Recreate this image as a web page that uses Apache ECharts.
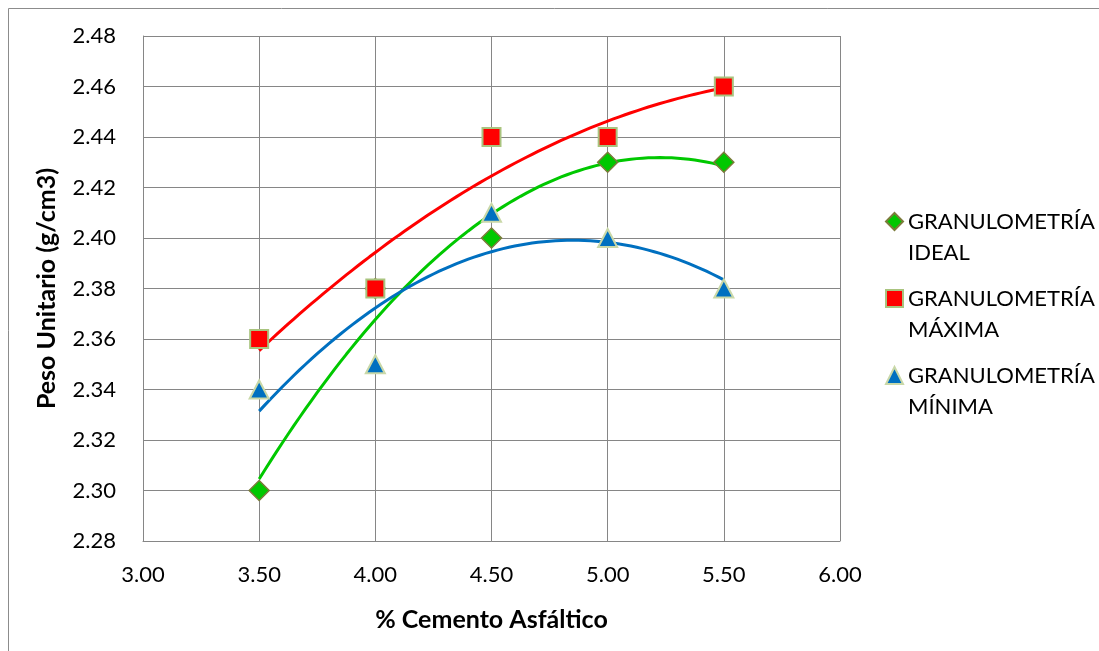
<!DOCTYPE html>
<html><head><meta charset="utf-8">
<script src="https://cdn.jsdelivr.net/npm/echarts@6/dist/echarts.min.js"></script>
<style>html,body{margin:0;padding:0;background:#fff}#c{width:1099px;height:651px}</style>
</head><body><div id="c"></div>
<script>
const xValues = [3.5, 4.0, 4.5, 5.0, 5.5];
const ideal = [2.30, 2.38, 2.40, 2.43, 2.43];
const maxima = [2.36, 2.38, 2.44, 2.44, 2.46];
const minima = [2.34, 2.35, 2.41, 2.40, 2.38];
const seriesNames = ['GRANULOMETRÍA\nIDEAL', 'GRANULOMETRÍA\nMÁXIMA', 'GRANULOMETRÍA\nMÍNIMA'];

function polyfit2(xs, ys) {
  // least squares quadratic fit (Excel polynomial trendline, order 2)
  let n = xs.length, s = [0,0,0,0,0], t = [0,0,0];
  for (let i = 0; i < n; i++) {
    let p = 1;
    for (let k = 0; k < 5; k++) { s[k] += p; if (k < 3) t[k] += p * ys[i]; p *= xs[i]; }
  }
  const A = [[s[0],s[1],s[2],t[0]],[s[1],s[2],s[3],t[1]],[s[2],s[3],s[4],t[2]]];
  for (let i = 0; i < 3; i++) {
    for (let j = i + 1; j < 3; j++) {
      const f = A[j][i] / A[i][i];
      for (let k = i; k < 4; k++) A[j][k] -= f * A[i][k];
    }
  }
  const c = [0,0,0];
  for (let i = 2; i >= 0; i--) {
    let v = A[i][3];
    for (let k = i + 1; k < 3; k++) v -= A[i][k] * c[k];
    c[i] = v / A[i][i];
  }
  return c;
}
function trend(ys) {
  const c = polyfit2(xValues, ys);
  const out = [];
  const x0 = xValues[0], x1 = xValues[xValues.length - 1];
  for (let i = 0; i <= 80; i++) {
    const x = x0 + (x1 - x0) * i / 80;
    out.push([x, c[0] + c[1] * x + c[2] * x * x]);
  }
  return out;
}
const pts = ys => xValues.map((x, i) => [x, ys[i]]);

const colors = {ideal: '#00C800', max: '#FF0000', min: '#0070C0'};
const FONT = 'Lato, "Open Sans", sans-serif';

const chart = echarts.init(document.getElementById('c'), null, {renderer: 'canvas'});
chart.setOption({
  animation: false,
  textStyle: {fontFamily: FONT},
  graphic: [{type: 'rect', shape: {x: 8.5, y: 8.5, width: 2000, height: 2000}, style: {fill: 'none', stroke: '#8c8c8c', lineWidth: 1}, z: -1}],
  grid: {left: 143, right: 259, top: 36, bottom: 110},
  legend: {
    data: seriesNames,
    orient: 'vertical',
    left: 885, top: 175, padding: 0,
    itemWidth: 17, itemHeight: 17, itemGap: -16,
    formatter: name => ' \n' + name,
    textStyle: {fontSize: 22, color: '#000', lineHeight: 31, fontFamily: FONT}
  },
  xAxis: {
    type: 'value', min: 3.0, max: 6.0, interval: 0.5,
    name: '% Cemento Asfáltico', nameLocation: 'middle', nameGap: 66,
    nameTextStyle: {fontSize: 25, fontWeight: 'bold', color: '#000', fontFamily: FONT},
    axisLine: {show: true, lineStyle: {color: '#868686', width: 1}},
    axisTick: {show: false},
    axisLabel: {fontSize: 22, color: '#000', margin: 23, formatter: v => v.toFixed(2)},
    splitLine: {show: true, lineStyle: {color: '#868686', width: 1}}
  },
  yAxis: {
    type: 'value', min: 2.28, max: 2.48, interval: 0.02,
    name: 'Peso Unitario (g/cm3)', nameLocation: 'middle', nameGap: 84,
    nameTextStyle: {fontSize: 25, fontWeight: 'bold', color: '#000', fontFamily: FONT},
    axisLine: {show: true, lineStyle: {color: '#868686', width: 1}},
    axisTick: {show: false},
    axisLabel: {fontSize: 22, color: '#000', margin: 27, formatter: v => v.toFixed(2)},
    splitLine: {show: true, lineStyle: {color: '#868686', width: 1}}
  },
  series: [
    {type: 'line', data: trend(ideal), showSymbol: false, silent: true, z: 2, lineStyle: {color: colors.ideal, width: 3}},
    {type: 'line', data: trend(maxima), showSymbol: false, silent: true, z: 2, lineStyle: {color: colors.max, width: 3}},
    {type: 'line', data: trend(minima), showSymbol: false, silent: true, z: 2, lineStyle: {color: colors.min, width: 3}},
    {name: seriesNames[0], type: 'scatter', data: pts(ideal), symbol: 'diamond', symbolSize: [20, 20], z: 5,
     itemStyle: {color: colors.ideal, borderColor: '#7b7b3a', borderWidth: 1.5, opacity: 1}},
    {name: seriesNames[1], type: 'scatter', data: pts(maxima), symbol: 'rect', symbolSize: 18, z: 6,
     itemStyle: {color: colors.max, borderColor: '#a9c47f', borderWidth: 2, opacity: 1}},
    {name: seriesNames[2], type: 'scatter', data: pts(minima), symbol: 'triangle', symbolSize: [19, 18], z: 5,
     itemStyle: {color: colors.min, borderColor: '#c9d8a8', borderWidth: 2, opacity: 1}}
  ]
});
</script></body></html>
